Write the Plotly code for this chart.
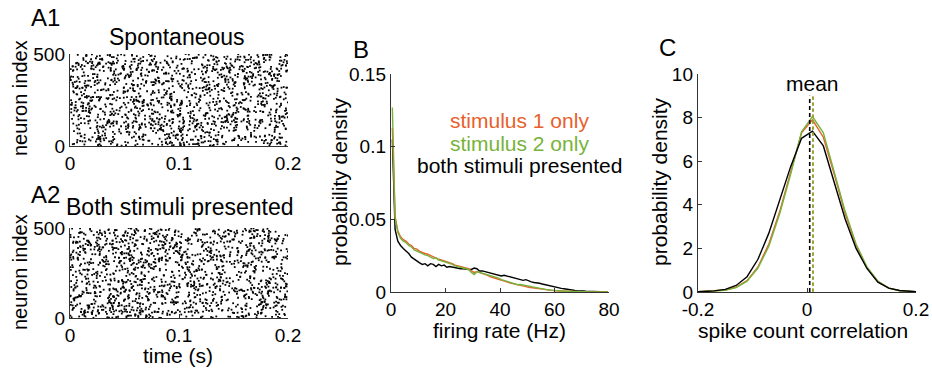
import numpy as np
import plotly.graph_objects as go

W, H = 932, 370

# ---------------- data ----------------
# Raster panels: individual spike times cannot be read from the picture,
# so an illustrative (fixed-seed) raster stands in for them.
n_neurons = 500
t_max = 0.2
n_spikes_spont = 1500
n_spikes_both = 1500
_rng = np.random.default_rng(7)
spont_t = _rng.uniform(0, t_max, n_spikes_spont)
spont_n = _rng.uniform(0, n_neurons, n_spikes_spont)
both_t = _rng.uniform(0, t_max, n_spikes_both)
both_n = _rng.uniform(0, n_neurons, n_spikes_both)

# Panel B: firing-rate distributions (probability density, x1000)
rate_hz = [i + 0.5 for i in range(80)]
stim1_pd = [113, 52, 42, 38, 36, 35, 33, 32, 30, 29.5,
            28, 27, 26.5, 26, 25, 24, 23.5, 22.5, 22, 21.5,
            21, 20, 19.5, 18.5, 18, 17.5, 17, 16.5, 16, 14.5,
            13.5, 14, 13.5, 13, 12, 11.5, 10.5, 10, 9, 8.5,
            8, 7.5, 7, 6.3, 5.8, 5.3, 4.7, 4.5, 4.1, 3.7,
            3.3, 3, 2.7, 2.4, 2.1, 1.8, 1.6, 1.4, 1.2, 1.0,
            0.8, 0.7, 0.6, 0.5, 0.4, 0.3, 0.25, 0.2, 0.15, 0.1,
            0.1, 0.08, 0.06, 0.05, 0.04, 0.03, 0.02, 0.02, 0.01, 0.01]
stim2_pd = [127, 51, 41, 37, 35, 34, 32, 31, 29, 28,
            27.5, 26.5, 25.5, 25, 24, 23, 23.5, 22, 21.5, 21,
            20, 19.5, 19, 18, 17.5, 17, 16.5, 16, 15.5, 13.5,
            12, 14, 13.5, 13, 12.5, 12, 11.5, 11, 10, 9.5,
            8.5, 8, 7.5, 7, 6.5, 6, 5, 5.2, 4.8, 4.3,
            3.8, 3.4, 3.0, 2.7, 2.4, 2.1, 1.8, 1.5, 1.3, 1.1,
            0.9, 0.8, 0.7, 0.5, 0.4, 0.35, 0.3, 0.2, 0.2, 0.15,
            0.1, 0.1, 0.08, 0.06, 0.05, 0.04, 0.03, 0.02, 0.02, 0.01]
both_pd = [105, 43, 35, 32, 30, 28.5, 26.5, 24, 22.5, 21,
           20, 19, 19.5, 18, 19.5, 19, 17.5, 19, 18, 18.5,
           17, 17.5, 17, 16.5, 16.5, 16, 16, 15.5, 15.5, 15.5,
           16.5, 16, 14.5, 14.5, 14, 13, 13, 12.5, 12, 11,
           11, 11.5, 11, 10.5, 10.5, 10, 9.5, 9, 8, 8.5,
           7.5, 7, 6.5, 6.5, 6, 5.5, 5, 4.5, 4, 3.8,
           3.5, 3, 2.5, 2.2, 1.8, 1.5, 1.2, 1.0, 0.8, 0.9,
           0.7, 0.5, 0.5, 0.4, 0.3, 0.3, 0.2, 0.2, 0.1, 0.1]

# Panel C: spike count correlation distributions
corr = [-0.2, -0.19, -0.17, -0.15, -0.13, -0.11, -0.09, -0.07, -0.05, -0.03, -0.01,
        0.01, 0.03, 0.05, 0.07, 0.09, 0.11, 0.13, 0.15, 0.17, 0.19, 0.2]
corr_stim1 = [0.01, 0.02, 0.04, 0.09, 0.22, 0.52, 1.15, 2.2, 3.7, 5.45, 7.3,
              7.9, 7.1, 5.4, 3.6, 2.15, 1.12, 0.48, 0.18, 0.06, 0.02, 0.01]
corr_stim2 = [0.01, 0.02, 0.03, 0.08, 0.2, 0.5, 1.1, 2.1, 3.6, 5.4, 7.35,
              8.05, 7.3, 5.5, 3.7, 2.2, 1.15, 0.5, 0.18, 0.06, 0.02, 0.01]
corr_both = [0.01, 0.02, 0.05, 0.12, 0.3, 0.7, 1.5, 2.7, 4.2, 5.75, 7.05,
             7.38, 6.7, 5.0, 3.35, 2.0, 1.08, 0.45, 0.18, 0.07, 0.02, 0.01]
mean_stim1 = 0.011
mean_stim2 = 0.011
mean_both = 0.005
mean_line_top = 9.0

C_ORANGE = "#E8602C"
C_GREEN = "#77B33A"
C_BLACK = "#000000"
AX = "#333333"
FONT = "Liberation Sans, Arial, Helvetica, sans-serif"


def px_x(p):
    return p / W


def px_y(p):
    return 1 - p / H


fig = go.Figure()

# A1 raster
fig.add_trace(go.Scatter(x=spont_t, y=spont_n, mode="markers", xaxis="x", yaxis="y",
                         marker=dict(symbol="square", size=1.8, color="black", line=dict(width=0)),
                         showlegend=False))
# A2 raster
fig.add_trace(go.Scatter(x=both_t, y=both_n, mode="markers", xaxis="x2", yaxis="y2",
                         marker=dict(symbol="square", size=1.8, color="black", line=dict(width=0)),
                         showlegend=False))

# B curves
for ys, col in [(both_pd, C_BLACK), (stim1_pd, C_ORANGE), (stim2_pd, C_GREEN)]:
    fig.add_trace(go.Scatter(x=rate_hz, y=[v / 1000 for v in ys], mode="lines",
                             xaxis="x3", yaxis="y3", line=dict(color=col, width=1.4),
                             showlegend=False))

# C curves
for ys, col in [(corr_stim1, C_ORANGE), (corr_stim2, C_GREEN), (corr_both, C_BLACK)]:
    fig.add_trace(go.Scatter(x=corr, y=ys, mode="lines", xaxis="x4", yaxis="y4",
                             line=dict(color=col, width=1.4), showlegend=False))
# mean lines
fig.add_trace(go.Scatter(x=[mean_stim2, mean_stim2], y=[0, mean_line_top], mode="lines",
                         xaxis="x4", yaxis="y4", line=dict(color=C_GREEN, width=1.6, dash="3px,3px"),
                         showlegend=False))
fig.add_trace(go.Scatter(x=[mean_stim1, mean_stim1], y=[0.03, mean_line_top], mode="lines",
                         xaxis="x4", yaxis="y4", line=dict(color="#A39A2E", width=1.6, dash="3px,3px"),
                         showlegend=False))
fig.add_trace(go.Scatter(x=[mean_both, mean_both], y=[0, mean_line_top], mode="lines",
                         xaxis="x4", yaxis="y4", line=dict(color=C_BLACK, width=1.6, dash="4px,3px"),
                         showlegend=False))

axis_common = dict(showline=True, linecolor=AX, linewidth=1.4, ticks="inside", ticklen=4,
                   tickcolor=AX, tickwidth=1, showgrid=False, zeroline=False, mirror=False,
                   automargin=False,
                   tickfont=dict(size=19, color="black", family=FONT))

fig.update_layout(
    template="none",
    width=W, height=H, margin=dict(l=0, r=0, t=0, b=0, pad=0, autoexpand=False),
    paper_bgcolor="white", plot_bgcolor="white",
    font=dict(family=FONT, color="black"),
    xaxis=dict(domain=[px_x(70), px_x(288)], range=[0, 0.2], tickvals=[0, 0.1, 0.2],
               ticktext=["0", "0.1", "0.2"], anchor="y", **axis_common),
    yaxis=dict(domain=[px_y(146), px_y(54)], range=[0, 500], tickvals=[0, 500],
               anchor="x", **axis_common),
    xaxis2=dict(domain=[px_x(70), px_x(288)], range=[0, 0.2], tickvals=[0, 0.1, 0.2],
                ticktext=["0", "0.1", "0.2"], anchor="y2", **axis_common),
    yaxis2=dict(domain=[px_y(318), px_y(228)], range=[0, 500], tickvals=[0, 500],
                anchor="x2", **axis_common),
    xaxis3=dict(domain=[px_x(391), px_x(609)], range=[0, 80], tickvals=[0, 20, 40, 60, 80],
                anchor="y3", **axis_common),
    yaxis3=dict(domain=[px_y(292), px_y(74)], range=[0, 0.15], tickvals=[0, 0.05, 0.1, 0.15],
                ticktext=["0", "0.05", "0.1", "0.15"], anchor="x3", **axis_common),
    xaxis4=dict(domain=[px_x(698), px_x(916)], range=[-0.2, 0.2], tickvals=[-0.2, 0, 0.2],
                ticktext=["-0.2", "0", "0.2"], anchor="y4", **axis_common),
    yaxis4=dict(domain=[px_y(292), px_y(74)], range=[0, 10], tickvals=[0, 2, 4, 6, 8, 10],
                anchor="x4", **axis_common),
)


def txt(text, x, y, size, color="black", angle=0):
    fig.add_annotation(text=text, x=px_x(x), y=px_y(y), xref="paper", yref="paper",
                       showarrow=False, xanchor="center", yanchor="middle",
                       textangle=angle, font=dict(size=size, color=color, family=FONT))


# panel labels
txt("A1", 45, 18, 24)
txt("A2", 45, 194, 24)
txt("B", 361, 50, 24)
txt("C", 667, 47, 24)
# titles
txt("Spontaneous", 177, 37, 23)
txt("Both stimuli presented", 180, 207, 23)
# axis titles
txt("neuron index", 20, 98, 20, angle=-90)
txt("neuron index", 20, 272, 20, angle=-90)
txt("time (s)", 178, 355, 21)
txt("probability density", 339, 182, 21, angle=-90)
txt("firing rate (Hz)", 500, 330, 21)
txt("probability density", 659, 182, 21, angle=-90)
txt("spike count correlation", 803, 330, 21)
# legend texts in B
txt("stimulus 1 only", 519, 120, 21, C_ORANGE)
txt("stimulus 2 only", 519, 143, 21, C_GREEN)
txt("both stimuli presented", 519, 165, 21, C_BLACK)
# mean label in C
txt("mean", 812, 83, 21)

fig.write_html("out.html")
